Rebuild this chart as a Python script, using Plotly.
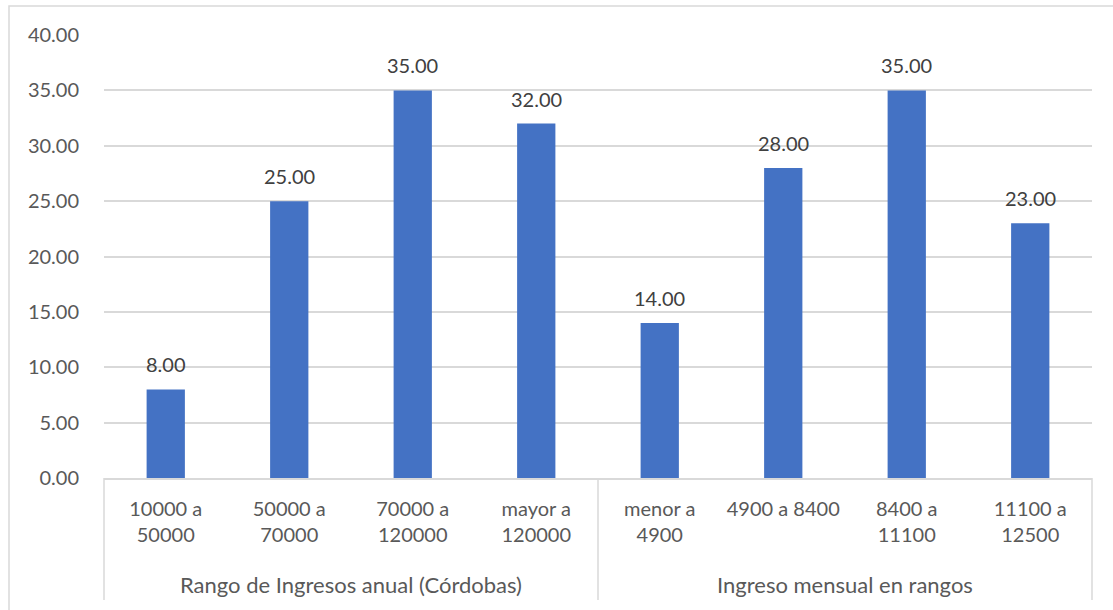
import plotly.graph_objects as go

# Income ranges (two groups of four categories)
groups = ["Rango de Ingresos anual (Córdobas)", "Ingreso mensual en rangos"]
categories = [
    "10000 a 50000", "50000 a 70000", "70000 a 120000", "mayor a 120000",
    "menor a 4900", "4900 a 8400", "8400 a 11100", "11100 a 12500",
]
tick_labels = [
    "10000 a<br>50000", "50000 a<br>70000", "70000 a<br>120000", "mayor a<br>120000",
    "menor a<br>4900", "4900 a 8400", "8400 a<br>11100", "11100 a<br>12500",
]
values = [8.00, 25.00, 35.00, 32.00, 14.00, 28.00, 35.00, 23.00]
y_ticks = [0, 5, 10, 15, 20, 25, 30, 35, 40]

FONT = "Lato"
BAR = "#4472C4"
GRID = "#D9D9D9"
TXT = "#595959"

W, H = 1113, 610
ML, MR, MT, MB = 104, 21, 35, 132
pw, ph = W - ML - MR, H - MT - MB


def py(px):
    """Pixel row -> paper y coordinate."""
    return (H - MB - px) / ph


def px_(x):
    """Pixel column -> paper x coordinate."""
    return (x - ML) / pw


fig = go.Figure(
    go.Bar(
        x=categories,
        y=values,
        marker=dict(color=BAR, line=dict(width=0)),
        hoverinfo="skip",
    )
)

n_per_group = len(categories) // len(groups)
shapes = [
    # outer chart frame
    dict(type="rect", xref="paper", yref="paper",
         x0=px_(9), x1=px_(W + 10), y0=py(6), y1=py(H + 10),
         line=dict(color=GRID, width=1.5), layer="below"),
    # group dividers in the category axis
    dict(type="line", xref="x domain", yref="paper", x0=0, x1=0,
         y0=0, y1=py(600), line=dict(color=GRID, width=1.5)),
    dict(type="line", xref="x domain", yref="paper", x0=1, x1=1,
         y0=0, y1=py(600), line=dict(color=GRID, width=1.5)),
]
for g in range(1, len(groups)):
    xd = g * n_per_group - 0.5
    shapes.append(dict(type="line", xref="x", yref="paper", x0=xd, x1=xd,
                       y0=0, y1=py(600), line=dict(color=GRID, width=1.5)))

annotations = []
# value labels above each bar
for cat, v in zip(categories, values):
    annotations.append(dict(
        text=f"{v:.2f}", xref="x", yref="y", x=cat, y=v,
        showarrow=False, xanchor="center", yanchor="middle", yshift=25,
        font=dict(family=FONT, size=20, color="#404040"),
    ))
# group labels under the category labels
for g, name in enumerate(groups):
    annotations.append(dict(
        text=name, xref="x", yref="paper",
        x=g * n_per_group + (n_per_group - 1) / 2, y=py(584),
        showarrow=False, xanchor="center", yanchor="middle",
        font=dict(family=FONT, size=22, color=TXT),
    ))

fig.update_layout(
    width=W, height=H,
    margin=dict(l=ML, r=MR, t=MT, b=MB),
    paper_bgcolor="white", plot_bgcolor="white",
    bargap=0.69,
    showlegend=False,
    shapes=shapes,
    annotations=annotations,
    font=dict(family=FONT, color=TXT),
)
fig.update_xaxes(
    type="category",
    tickvals=categories, ticktext=tick_labels,
    showline=True, linecolor=GRID, linewidth=1.5,
    ticks="outside", ticklen=12, tickcolor="rgba(0,0,0,0)",
    tickfont=dict(family=FONT, size=20, color=TXT),
    showgrid=False, zeroline=False,
)
fig.update_yaxes(
    range=[0, 40], tickvals=y_ticks, tickformat=".2f",
    showgrid=True, gridcolor=GRID, gridwidth=1.5,
    zeroline=False, showline=False,
    ticks="outside", ticklen=20, tickcolor="rgba(0,0,0,0)",
    tickfont=dict(family=FONT, size=20, color=TXT),
)

fig.write_html("out.html")
